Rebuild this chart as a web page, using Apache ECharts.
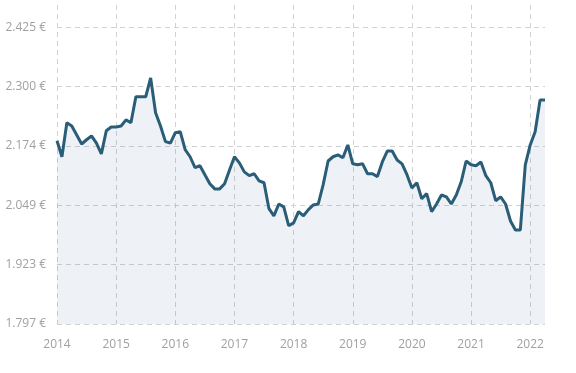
<!DOCTYPE html>
<html>
<head>
<meta charset="utf-8">
<script src="https://cdn.jsdelivr.net/npm/echarts@6/dist/echarts.min.js"></script>
<style>
html,body{margin:0;padding:0;background:#fff;}
#chart{width:576px;height:373px;}
</style>
</head>
<body>
<div id="chart"></div>
<script>
// Monthly categories 2014-01 .. 2022-04
var years = ['2014','2015','2016','2017','2018','2019','2020','2021','2022'];
var months = ['01','02','03','04','05','06','07','08','09','10','11','12'];
var categories = [];
years.forEach(function(y){ months.forEach(function(m){ categories.push(y + '-' + m); }); });
categories = categories.slice(0, 100);

var prices = [
  2.185, 2.151, 2.223, 2.216, 2.197, 2.178, 2.187, 2.195, 2.180, 2.157, 2.206, 2.214,
  2.214, 2.216, 2.229, 2.223, 2.278, 2.278, 2.278, 2.318, 2.244, 2.216, 2.183, 2.180,
  2.202, 2.204, 2.166, 2.151, 2.128, 2.132, 2.113, 2.094, 2.083, 2.083, 2.094, 2.123,
  2.151, 2.138, 2.119, 2.111, 2.115, 2.100, 2.096, 2.041, 2.026, 2.051, 2.045, 2.005,
  2.011, 2.035, 2.026, 2.039, 2.049, 2.051, 2.092, 2.142, 2.151, 2.155, 2.149, 2.176,
  2.136, 2.134, 2.136, 2.115, 2.115, 2.109, 2.140, 2.163, 2.163, 2.144, 2.136, 2.113,
  2.085, 2.096, 2.062, 2.073, 2.035, 2.051, 2.070, 2.066, 2.051, 2.070, 2.098, 2.142,
  2.134, 2.132, 2.140, 2.111, 2.096, 2.058, 2.066, 2.051, 2.015, 1.996, 1.996, 2.134,
  2.176, 2.204, 2.271, 2.271
];

var yTickLabels = ['1.797 €', '1.923 €', '2.049 €', '2.174 €', '2.300 €', '2.425 €'];
var yMin = 1.797;
var yInterval = 0.1256;
var yMax = 2.4722;

var chart = echarts.init(document.getElementById('chart'), null, {renderer: 'canvas'});
var gridColor = '#d2d2d2';
var labelColor = '#a0a0a0';
var font = '"Open Sans", "Noto Sans", sans-serif';

chart.setOption({
  animation: false,
  backgroundColor: '#fff',
  grid: {left: 57, right: 31, top: 5, bottom: 49, containLabel: false},
  xAxis: {
    type: 'category',
    data: categories,
    boundaryGap: false,
    axisLine: {show: false},
    axisTick: {show: false},
    axisLabel: {
      interval: function(i){ return i % 12 === 0; },
      formatter: function(v){ return v.slice(0, 4); },
      color: labelColor, fontFamily: font, fontSize: 12, margin: 15
    },
    splitLine: {
      show: true,
      interval: function(i){ return i % 12 === 0; },
      lineStyle: {color: gridColor, type: [5, 4], width: 1}
    }
  },
  yAxis: {
    type: 'value',
    min: yMin,
    max: yMax,
    interval: yInterval,
    axisLine: {show: false},
    axisTick: {show: false},
    axisLabel: {
      showMaxLabel: false,
      formatter: function(v){
        var i = Math.round((v - yMin) / yInterval);
        if (Math.abs(v - (yMin + i * yInterval)) > 0.01) return '';
        return yTickLabels[i] || '';
      },
      color: labelColor, fontFamily: font, fontSize: 12, margin: 11
    },
    splitLine: {
      show: true,
      showMaxLine: false,
      lineStyle: {color: gridColor, type: [5, 4], width: 1}
    }
  },
  series: [{
    type: 'line',
    data: prices,
    showSymbol: false,
    symbol: 'none',
    lineStyle: {color: '#2a5d78', width: 3},
    itemStyle: {color: '#2a5d78'},
    areaStyle: {color: 'rgba(63,105,147,0.12)'},
    z: 2
  }]
});
</script>
</body>
</html>
